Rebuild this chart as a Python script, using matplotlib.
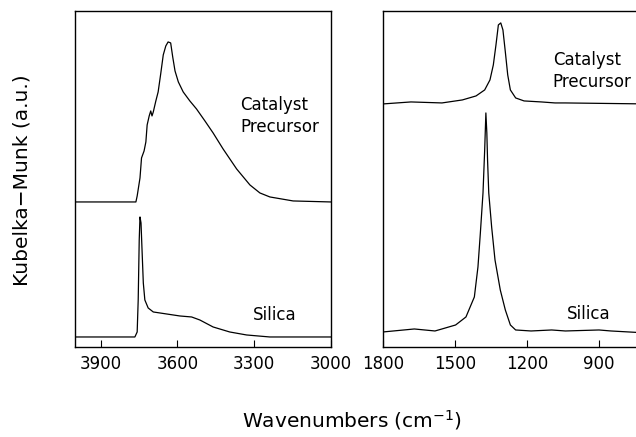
import matplotlib
matplotlib.use("Agg")
from matplotlib import pyplot as plt

# OH region (left panel), heights in a.u.
oh_cat_wn = [4000, 3785, 3762, 3757, 3746, 3740, 3730, 3723, 3718, 3710, 3704, 3699,
             3694, 3684, 3675, 3665, 3655, 3645, 3636, 3626, 3618, 3609, 3596, 3577,
             3551, 3525, 3492, 3460, 3421, 3368, 3316, 3277, 3238, 3147, 3000]
oh_cat_y = [145, 145, 145, 151, 169, 189, 196, 205, 222, 231, 236, 231,
            235, 246, 255, 273, 292, 301, 305, 304, 290, 276, 265, 255,
            246, 238, 226, 214, 198, 178, 162, 154, 150, 146, 145]

oh_sil_wn = [4000, 3785, 3766, 3757, 3753, 3749, 3746, 3742, 3738, 3733, 3727, 3714,
             3694, 3642, 3590, 3544, 3512, 3460, 3395, 3329, 3238, 3000]
oh_sil_y = [10, 10, 10, 15, 47, 107, 130, 124, 97, 64, 47, 39,
            35, 33, 31, 30, 27, 20, 15, 12, 10, 10]

# lower region (right panel)
lo_cat_wn = [1800, 1683, 1554, 1469, 1412, 1376, 1354, 1340, 1329, 1319, 1309, 1300,
             1290, 1280, 1269, 1247, 1212, 1140, 1083, 1040, 700]
lo_cat_y = [243, 245, 244, 247, 251, 257, 267, 282, 302, 322, 324, 317,
            295, 272, 257, 249, 246, 245, 244, 244, 243]

lo_sil_wn = [1800, 1669, 1583, 1554, 1497, 1454, 1419, 1404, 1394, 1383, 1376, 1371,
             1367, 1364, 1359, 1347, 1333, 1311, 1290, 1269, 1247, 1183, 1097, 1040,
             900, 850, 700]
lo_sil_y = [15, 18, 16, 18, 22, 30, 50, 80, 114, 154, 197, 234,
            214, 187, 154, 120, 87, 57, 37, 22, 17, 16, 17, 16,
            17, 16, 14]

fig = plt.figure(figsize=(6.36, 4.37), dpi=100)
ax1 = fig.add_axes([0.118, 0.206, 0.402, 0.769])
ax2 = fig.add_axes([0.602, 0.206, 0.41, 0.769])

ax1.plot(oh_cat_wn, oh_cat_y, color='black', lw=0.9)
ax1.plot(oh_sil_wn, oh_sil_y, color='black', lw=0.9)
ax1.set_xlim(4000, 3000)
ax1.set_xticks([3900, 3600, 3300, 3000])

ax2.plot(lo_cat_wn, lo_cat_y, color='black', lw=0.9)
ax2.plot(lo_sil_wn, lo_sil_y, color='black', lw=0.9)
ax2.set_xlim(1800, 714)
ax2.set_xticks([1800, 1500, 1200, 900])
ax2.spines['right'].set_visible(False)

for ax in (ax1, ax2):
    ax.set_ylim(0, 336)
    ax.set_yticks([])
    ax.tick_params(axis='x', direction='in', length=5, labelsize=12, pad=6)
    for s in ax.spines.values():
        s.set_linewidth(1.0)

ax1.text(3355, 231, "Catalyst\nPrecursor", fontsize=12, va='center', ha='left', linespacing=1.3)
ax1.text(3306, 32, "Silica", fontsize=12, va='center', ha='left')
ax2.text(1092, 276, "Catalyst\nPrecursor", fontsize=12, va='center', ha='left', linespacing=1.3)
ax2.text(1032, 33, "Silica", fontsize=12, va='center', ha='left')

fig.text(0.035, 0.588, "Kubelka\u2212Munk (a.u.)", rotation=90, fontsize=14.5,
         ha='center', va='center')
fig.text(0.553, 0.012, "Wavenumbers (cm$^{-1}$)", fontsize=14.5, ha='center', va='bottom')

fig.savefig("out.png", dpi=100)
